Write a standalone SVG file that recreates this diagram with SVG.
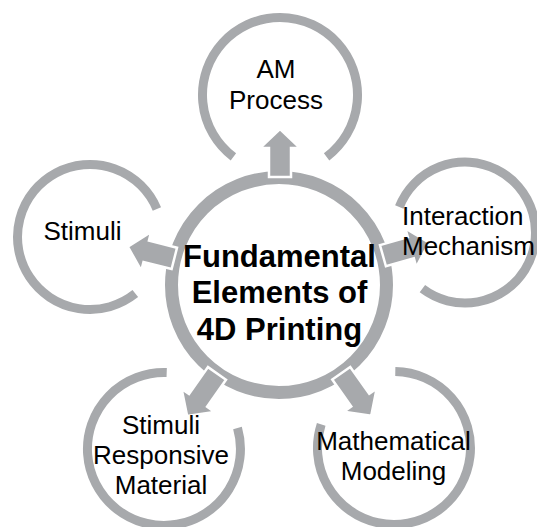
<svg xmlns="http://www.w3.org/2000/svg" width="537" height="527" viewBox="0 0 537 527">
<style>
.ring{fill:none;stroke:#a7a9ac;stroke-width:9;stroke-linecap:butt}
.center-ring{fill:none;stroke:#a7a9ac;stroke-width:13}
.arrow{fill:#a7a9ac;stroke:#ffffff;stroke-width:2.5;stroke-linejoin:miter}
.lbl{font-family:"Liberation Sans",Arial,sans-serif;font-size:26px;fill:#000;text-anchor:middle}
.ctr{font-family:"Liberation Sans",Arial,sans-serif;font-size:31px;font-weight:bold;fill:#000;text-anchor:middle}
</style>
<rect width="537" height="527" fill="#ffffff"/>
<defs>
<polygon id="arrS" points="108,-11 137,-11 137,-20 156,0 137,20 137,11 108,11"/>
<polygon id="arrL" points="108,-11 141,-11 141,-20 160,0 141,20 141,11 108,11"/>
</defs>
<g id="n-center-ring">
<circle class="center-ring" cx="279" cy="285" r="107.5"/>
</g>
<g id="connectors">
<use href="#arrS" class="arrow" transform="translate(280,285) rotate(-90)"/>
<use href="#arrS" class="arrow" transform="translate(279,285) rotate(194.25)"/>
<use href="#arrS" class="arrow" transform="translate(279,285) rotate(-15.76)"/>
<use href="#arrL" class="arrow" transform="translate(279,285) rotate(125.04)"/>
<use href="#arrL" class="arrow" transform="translate(279,285) rotate(54.8)"/>
</g>
<g id="n-am">
<path class="ring" d="M233.4,156.9 A77.5,77.5 0 1 1 326.6,156.9"/>
<text class="lbl" x="276" y="78">AM</text>
<text class="lbl" x="276" y="109">Process</text>
</g>
<g id="n-stimuli">
<path class="ring" d="M135.3,293.6 A72.5,72.5 0 1 1 156.9,209"/>
<text class="lbl" x="82.5" y="240">Stimuli</text>
</g>
<g id="n-interaction">
<path class="ring" d="M399.3,207 A70.5,70.5 0 1 1 422.4,288.7"/>
<text class="lbl" x="402" y="225" style="text-anchor:start">Interaction</text>
<text class="lbl" x="402" y="255" style="text-anchor:start">Mechanism</text>
</g>
<g id="n-srm">
<path class="ring" d="M237.5,427.9 A76.5,76.5 0 1 1 166.7,372.5"/>
<text class="lbl" x="161" y="434">Stimuli</text>
<text class="lbl" x="161" y="464">Responsive</text>
<text class="lbl" x="161" y="494">Material</text>
</g>
<g id="n-mm">
<path class="ring" d="M395.3,371.5 A76.5,76.5 0 1 1 321.2,424.4"/>
<text class="lbl" x="393.5" y="450">Mathematical</text>
<text class="lbl" x="393.5" y="480">Modeling</text>
</g>
<g id="n-center">
<text class="ctr" x="279.5" y="267">Fundamental</text>
<text class="ctr" x="279.5" y="303">Elements of</text>
<text class="ctr" x="279.5" y="340">4D Printing</text>
</g>
</svg>
